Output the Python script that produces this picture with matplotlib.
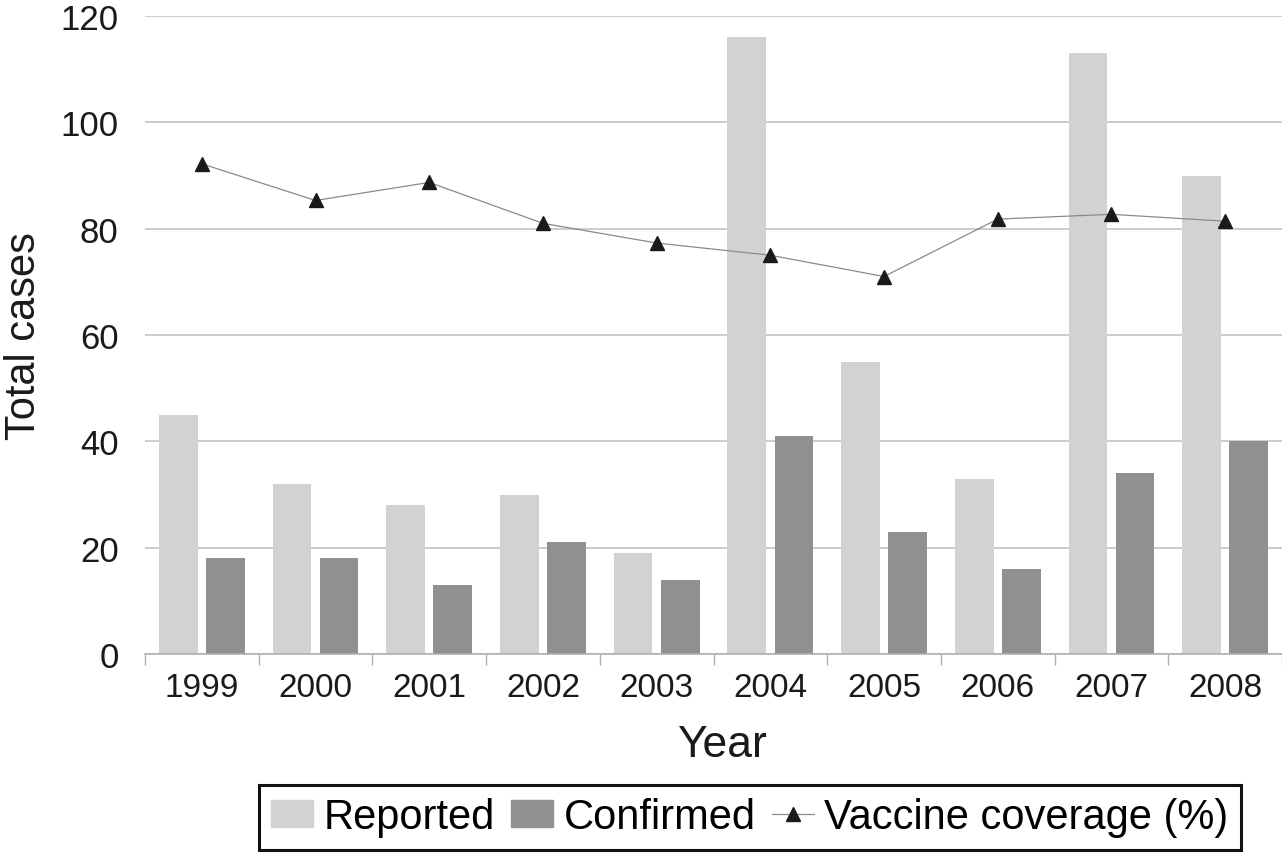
import numpy as np
import matplotlib
matplotlib.use("Agg")
import matplotlib.pyplot as plt
from matplotlib.patches import Patch
from matplotlib.lines import Line2D

years = ["1999", "2000", "2001", "2002", "2003", "2004", "2005", "2006", "2007", "2008"]
reported = [45, 32, 28, 30, 19, 116, 55, 33, 113, 90]
confirmed = [18, 18, 13, 21, 14, 41, 23, 16, 34, 40]
coverage = [92.2, 85.3, 88.7, 81.0, 77.3, 75.0, 71.0, 81.8, 82.7, 81.4]

plt.rcParams["font.family"] = ["Liberation Sans", "DejaVu Sans"]

fig = plt.figure(figsize=(12.82, 8.54), dpi=100)
ax = fig.add_axes([145 / 1282, 1 - 655 / 854, 1 - 145 / 1282, (655 - 17) / 854])

x = np.arange(len(years))
w = 0.34
ax.bar(x - 0.207, reported, w, color="#d0d2d4", zorder=2)
ax.bar(x + 0.207, confirmed, w, color="#8e9092", zorder=2)
ax.plot(x, coverage, color="#8a8a8a", lw=0.9, marker="^", ms=10,
        mfc="#1a1a1a", mec="#1a1a1a", zorder=3)

ax.set_xlim(-0.5, 9.5)
ax.set_ylim(0, 120)
ax.set_yticks(range(0, 121, 20))
ax.yaxis.grid(True, color="#c4c4c4", lw=1.2, zorder=0)
ax.set_axisbelow(True)
ax.tick_params(axis="y", length=0, labelsize=25, pad=19, colors="#1a1a1a")

ax.set_xticks(x)
ax.set_xticklabels(years)
ax.set_xticks(np.arange(-0.5, 10, 1), minor=True)
ax.tick_params(axis="x", which="major", length=0, labelsize=24, pad=13, colors="#1a1a1a")
ax.tick_params(axis="x", which="minor", length=8, width=1, color="#b0b0b0")

for s in ["top", "right", "left"]:
    ax.spines[s].set_visible(False)
ax.spines["bottom"].set_color("#b0b0b0")
ax.spines["bottom"].set_linewidth(1.2)

ax.set_xlabel("Year", fontsize=32, color="#1a1a1a", va="center")
ax.xaxis.set_label_coords(0.507, -0.142)
ax.set_ylabel("Total cases", fontsize=30, color="#1a1a1a", va="center")
ax.yaxis.set_label_coords(-0.106, 0.5)

handles = [
    Patch(color="#d0d2d4", label="Reported"),
    Patch(color="#8e9092", label="Confirmed"),
    Line2D([], [], color="#8a8a8a", lw=0.9, marker="^", ms=10,
           mfc="#1a1a1a", mec="#1a1a1a", label="Vaccine coverage (%)"),
]
leg = fig.legend(handles=handles, loc="center", bbox_to_anchor=(750 / 1282, 1 - 818 / 854),
                 ncol=3, fontsize=30, frameon=True, fancybox=False, edgecolor="#111111",
                 framealpha=1, handlelength=1.0, handleheight=0.6, handletextpad=0.25,
                 columnspacing=0.4, borderpad=0.3, borderaxespad=0)
leg.get_frame().set_linewidth(2.2)

fig.savefig("out.png", dpi=100)
